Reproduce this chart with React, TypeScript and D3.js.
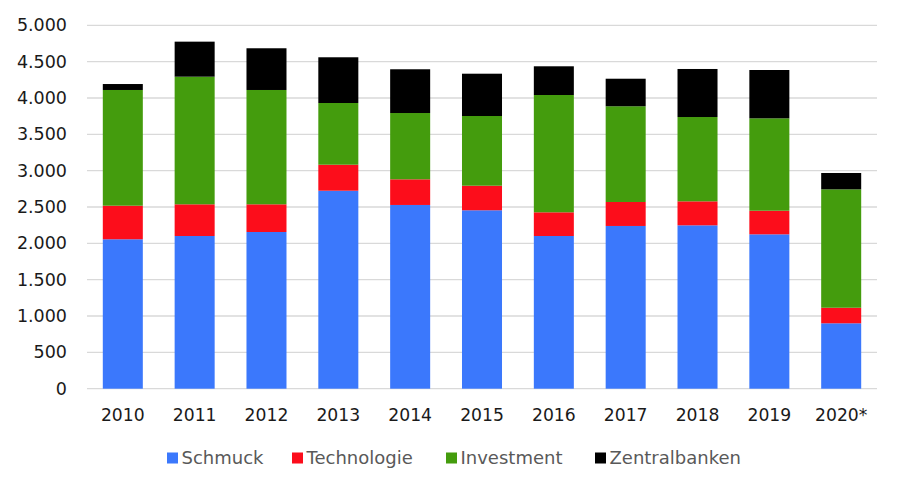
import React from "react";
import * as d3 from "d3";

const categories = ["2010", "2011", "2012", "2013", "2014", "2015", "2016", "2017", "2018", "2019", "2020*"];
const seriesNames = ["Schmuck", "Technologie", "Investment", "Zentralbanken"];
const schmuck = [2056, 2101, 2156, 2724, 2528, 2455, 2101, 2239, 2248, 2124, 900];
const technologie = [462, 436, 381, 358, 353, 338, 326, 330, 330, 325, 214];
const investment = [1592, 1756, 1573, 849, 912, 959, 1614, 1317, 1160, 1271, 1629];
const zentralbanken = [82, 482, 574, 629, 602, 582, 395, 379, 661, 665, 225];
const yTicks = [0, 500, 1000, 1500, 2000, 2500, 3000, 3500, 4000, 4500, 5000];
const colors = ["#3b78fc", "#fc0d1b", "#449c0d", "#000000"];

const W = 903, H = 490;
const M = { left: 87, right: 26, top: 25.3, bottom: 101.3 };

export default function App() {
  const rows = categories.map((c, i) => ({
    cat: c,
    Schmuck: schmuck[i],
    Technologie: technologie[i],
    Investment: investment[i],
    Zentralbanken: zentralbanken[i],
  }));
  const stack = d3.stack<any>().keys(seriesNames)(rows);
  const x = d3.scaleBand().domain(categories).range([M.left, W - M.right]).paddingInner(0.443).paddingOuter(0.22);
  const y = d3.scaleLinear().domain([0, 5000]).range([H - M.bottom, M.top]);
  const fmt = (v: number) => d3.format(",")(v).replace(/,/g, ".");
  const font = "'DejaVu Sans', Verdana, sans-serif";
  const legendX = [167, 292, 446, 595];
  return (
    <svg width={W} height={H} style={{ position: "absolute", left: 0, top: 0, background: "#fff" }}>
      {yTicks.map((t) => (
        <g key={t}>
          <line x1={M.left} x2={W - M.right} y1={y(t)} y2={y(t)} stroke="#d9d9d9" strokeWidth={1.3} />
          <text x={67} y={y(t)} dy="0.35em" textAnchor="end" fontFamily={font} fontSize={17.5} fill="#1a1a1a">
            {fmt(t)}
          </text>
        </g>
      ))}
      {stack.map((s, si) => (
        <g key={s.key} fill={colors[si]}>
          {s.map((d, i) => (
            <rect key={i} x={x(categories[i])!} width={x.bandwidth()} y={y(d[1])} height={y(d[0]) - y(d[1])} />
          ))}
        </g>
      ))}
      {categories.map((c) => (
        <text key={c} x={x(c)! + x.bandwidth() / 2} y={414.5} dy="0.35em" textAnchor="middle" fontFamily={font} fontSize={17.2} fill="#1a1a1a">
          {c}
        </text>
      ))}
      {seriesNames.map((n, i) => (
        <g key={n}>
          <rect x={legendX[i]} y={452.5} width={11} height={11} fill={colors[i]} />
          <text x={legendX[i] + 14.5} y={458} dy="0.35em" fontFamily={font} fontSize={18} fill="#595959">
            {n}
          </text>
        </g>
      ))}
    </svg>
  );
}
